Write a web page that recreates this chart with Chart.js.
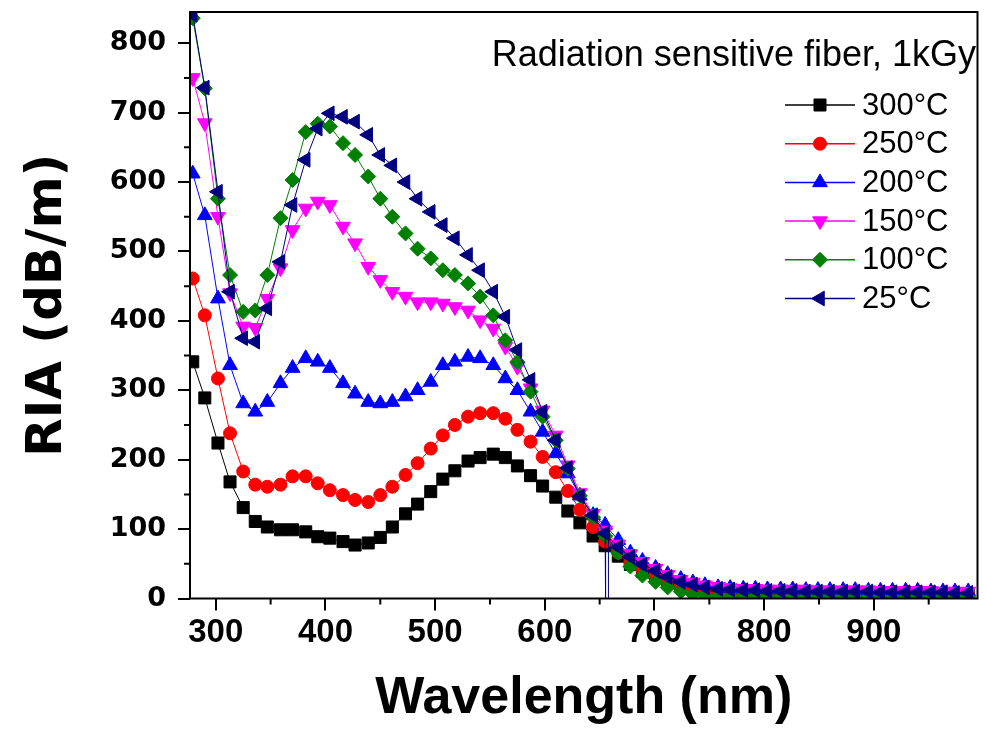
<!DOCTYPE html>
<html>
<head>
<meta charset="utf-8">
<script src="https://cdn.jsdelivr.net/npm/chart.js@4.4.1/dist/chart.umd.min.js"></script>
<style>
  html, body { margin: 0; padding: 0; background: #fff; }
  #wrap { width: 987px; height: 732px; }
</style>
</head>
<body>
<div id="wrap"><canvas id="ria" width="987" height="732"></canvas></div>
<script>
// ---- Daten ---------------------------------------------------------------
const wavelengths = [279, 290, 302, 313, 325, 336, 347, 359, 370, 382, 393, 404, 416, 427, 439, 450,
  461, 473, 484, 496, 507, 518, 530, 541, 553, 564, 575, 587, 598, 610, 621, 632, 644, 655, 667,
  678, 689, 701, 712, 724, 735, 746, 758, 769, 781, 792, 803, 815, 826, 838, 849, 860, 872, 883,
  895, 906, 917, 929, 940, 952, 963, 974, 986];

const labels = ['300°C', '250°C', '200°C', '150°C', '100°C', '25°C'];

const ria300 = [341, 289, 224, 168, 131, 111, 103, 99, 99, 96, 89, 87, 82, 77, 80, 88, 103, 122, 136, 154,
  172, 184, 198, 203, 208, 203, 191, 177, 162, 146, 126, 109, 90, 76, 61, 49, 39, 31, 24, 18,
  14, 11, 9, 8, 8, 7, 7, 7, 7, 6, 6, 6, 6, 6, 6, 5, 5, 5, 5, 5, 5, 5, 5];
const ria250 = [461, 408, 317, 238, 183, 164, 161, 164, 176, 176, 166, 156, 149, 142, 139, 149, 161, 178, 195, 216,
  235, 250, 262, 267, 267, 259, 243, 226, 204, 182, 155, 128, 103, 82, 66, 52, 42, 33, 26, 20,
  16, 13, 11, 10, 9, 9, 8, 8, 8, 8, 7, 7, 7, 7, 7, 7, 6, 6, 6, 6, 6, 6, 6];
const ria200 = [612, 552, 432, 336, 281, 269, 283, 310, 332, 346, 341, 332, 310, 295, 283, 281, 283, 291, 300, 312,
  336, 341, 348, 346, 336, 317, 300, 269, 240, 209, 180, 148, 120, 106, 84, 66, 54, 44, 35, 28,
  23, 19, 16, 15, 14, 14, 13, 13, 13, 12, 12, 12, 12, 12, 11, 11, 11, 11, 11, 10, 10, 10, 10];
const ria150 = [750, 685, 550, 440, 392, 390, 432, 476, 531, 562, 572, 567, 536, 512, 478, 459, 442, 435, 427, 427,
  425, 420, 415, 401, 389, 363, 334, 303, 271, 235, 192, 152, 122, 98, 78, 64, 53, 43, 34, 27,
  23, 19, 17, 15, 14, 14, 13, 13, 13, 13, 12, 12, 12, 12, 12, 11, 11, 11, 11, 11, 10, 10, 10];
const ria100 = [836, 735, 576, 466, 413, 415, 466, 548, 603, 672, 684, 680, 656, 639, 608, 576, 550, 526, 504, 490,
  473, 466, 454, 435, 408, 372, 341, 298, 262, 228, 187, 148, 117, 90, 66, 46, 33, 24, 16, 10,
  6, 4, 3, 3, 2, 2, 2, 2, 2, 2, 2, 2, 2, 2, 2, 2, 2, 2, 2, 2, 2, 2, 2];
const ria25 = [841, 736, 586, 442, 375, 370, 418, 485, 567, 632, 677, 699, 694, 687, 668, 639, 624, 600, 576, 557,
  538, 519, 495, 473, 442, 406, 358, 315, 269, 228, 188, 147, 120, 94, 74, 60, 49, 40, 31, 24,
  20, 16, 14, 13, 12, 12, 11, 11, 11, 10, 10, 10, 10, 10, 10, 9, 9, 9, 9, 9, 9, 8, 8];

// Ausreißer (Einbruch auf 0) in der 25°C-Kurve bei ~656 nm
const spikeWl = [655.4, 657.9, 658.0];
const spikeVal = [0, 0, 88];

const xMajor = [300, 400, 500, 600, 700, 800, 900];
const xMinor = [350, 450, 550, 650, 750, 850, 950];
const yMajor = [0, 100, 200, 300, 400, 500, 600, 700, 800];
const yMinor = [50, 150, 250, 350, 450, 550, 650, 750];

// ---- Stile ---------------------------------------------------------------
const styles = [
  { color: '#000000', shape: 'rect', rot: 0, r: 8.5 },
  { color: '#FF0000', shape: 'circle', rot: 0, r: 6.5 },
  { color: '#0000FF', shape: 'triangle', rot: 0, r: 8.5 },
  { color: '#FF00FF', shape: 'triangle', rot: 180, r: 8.5 },
  { color: '#008000', shape: 'rectRot', rot: 0, r: 7.5 },
  { color: '#000080', shape: 'triangle', rot: -90, r: 8.5 },
];
const series = [ria300, ria250, ria200, ria150, ria100, ria25];

const SANS = "'Liberation Sans', Arial, sans-serif";
const WIDE = "'DejaVu Sans', sans-serif";

function makeSet(i) {
  const st = styles[i];
  let pts = wavelengths.map((w, k) => ({ x: w, y: series[i][k] }));
  if (i === 5) {
    pts = pts.concat(spikeWl.map((w, k) => ({ x: w, y: spikeVal[k], spike: true })));
    pts.sort((a, b) => a.x - b.x);
  }
  return {
    label: labels[i],
    data: pts,
    borderColor: st.color,
    backgroundColor: st.color,
    borderWidth: 1,
    pointStyle: st.shape,
    pointRotation: st.rot,
    pointRadius: (c) => (c.raw && c.raw.spike ? 0 : st.r),
    pointBackgroundColor: st.color,
    pointBorderColor: st.color,
    pointBorderWidth: 1,
    tension: 0,
    order: 5 - i,
  };
}

// Rahmen, Nebenstriche, Beschriftung und Legende im Diagramm
const decor = {
  id: 'decor',
  afterDraw(chart) {
    const { ctx, chartArea: a, scales: { x, y } } = chart;
    ctx.save();
    ctx.strokeStyle = '#000';
    ctx.lineWidth = 2;
    ctx.strokeRect(a.left, a.top, a.right - a.left, a.bottom - a.top);

    ctx.beginPath();
    xMinor.forEach((v) => {
      const px = x.getPixelForValue(v);
      ctx.moveTo(px, a.bottom); ctx.lineTo(px, a.bottom + 6);
    });
    yMinor.forEach((v) => {
      const py = y.getPixelForValue(v);
      ctx.moveTo(a.left, py); ctx.lineTo(a.left - 6, py);
    });
    ctx.stroke();

    ctx.fillStyle = '#000';
    ctx.font = `36px ${SANS}`;
    ctx.textAlign = 'right';
    ctx.textBaseline = 'middle';
    ctx.fillText('Radiation sensitive fiber, 1kGy', 976, 56);

    ctx.textAlign = 'left';
    ctx.font = `31px ${SANS}`;
    const draw = Chart.helpers && Chart.helpers.drawPoint;
    styles.forEach((st, i) => {
      const ly = 105 + i * 38.7;
      ctx.strokeStyle = st.color;
      ctx.fillStyle = st.color;
      ctx.lineWidth = 1.5;
      ctx.beginPath(); ctx.moveTo(785, ly); ctx.lineTo(855, ly); ctx.stroke();
      if (draw) {
        ctx.lineWidth = 1;
        draw(ctx, { pointStyle: st.shape, rotation: st.rot, radius: st.r, borderWidth: 1 }, 820, ly);
      }
      ctx.fillStyle = '#000';
      ctx.fillText(labels[i], 862, ly + 1);
    });
    ctx.restore();
  },
};

new Chart(document.getElementById('ria'), {
  type: 'line',
  data: { datasets: [0, 1, 2, 3, 4, 5].map(makeSet) },
  options: {
    responsive: false,
    animation: false,
    layout: { padding: { top: 12, right: 2, left: 0, bottom: 0 } },
    plugins: { legend: { display: false }, tooltip: { enabled: false } },
    scales: {
      x: {
        type: 'linear',
        min: 276.5,
        max: 994.5,
        afterBuildTicks: (s) => { s.ticks = xMajor.map((v) => ({ value: v })); },
        afterFit: (s) => { s.height = 133.5; s.paddingLeft = 0; s.paddingRight = 0; },
        grid: { drawOnChartArea: false, drawTicks: true, tickLength: 12, color: '#000', lineWidth: 2 },
        border: { display: false },
        ticks: { color: '#000', font: { family: SANS, size: 33, weight: 'bold' }, padding: 3, maxRotation: 0, autoSkip: false },
        title: {
          display: true, text: 'Wavelength (nm)', color: '#000',
          font: { family: SANS, size: 52, weight: 'bold' }, padding: { top: 0, bottom: 2 },
        },
      },
      y: {
        type: 'linear',
        min: 0,
        max: 845,
        afterBuildTicks: (s) => { s.ticks = yMajor.map((v) => ({ value: v })); },
        afterFit: (s) => { s.width = 190; s.paddingTop = 0; s.paddingBottom = 0; },
        grid: { drawOnChartArea: false, drawTicks: true, tickLength: 12, color: '#000', lineWidth: 2 },
        border: { display: false },
        ticks: { color: '#000', font: { family: WIDE, size: 27, weight: 'bold' }, padding: 12 },
        title: {
          display: true, text: 'RIA (dB/m)', color: '#000',
          font: { family: WIDE, size: 50, weight: 'bold' }, padding: { top: 18, bottom: 0 },
        },
      },
    },
  },
  plugins: [decor],
});
</script>
</body>
</html>
